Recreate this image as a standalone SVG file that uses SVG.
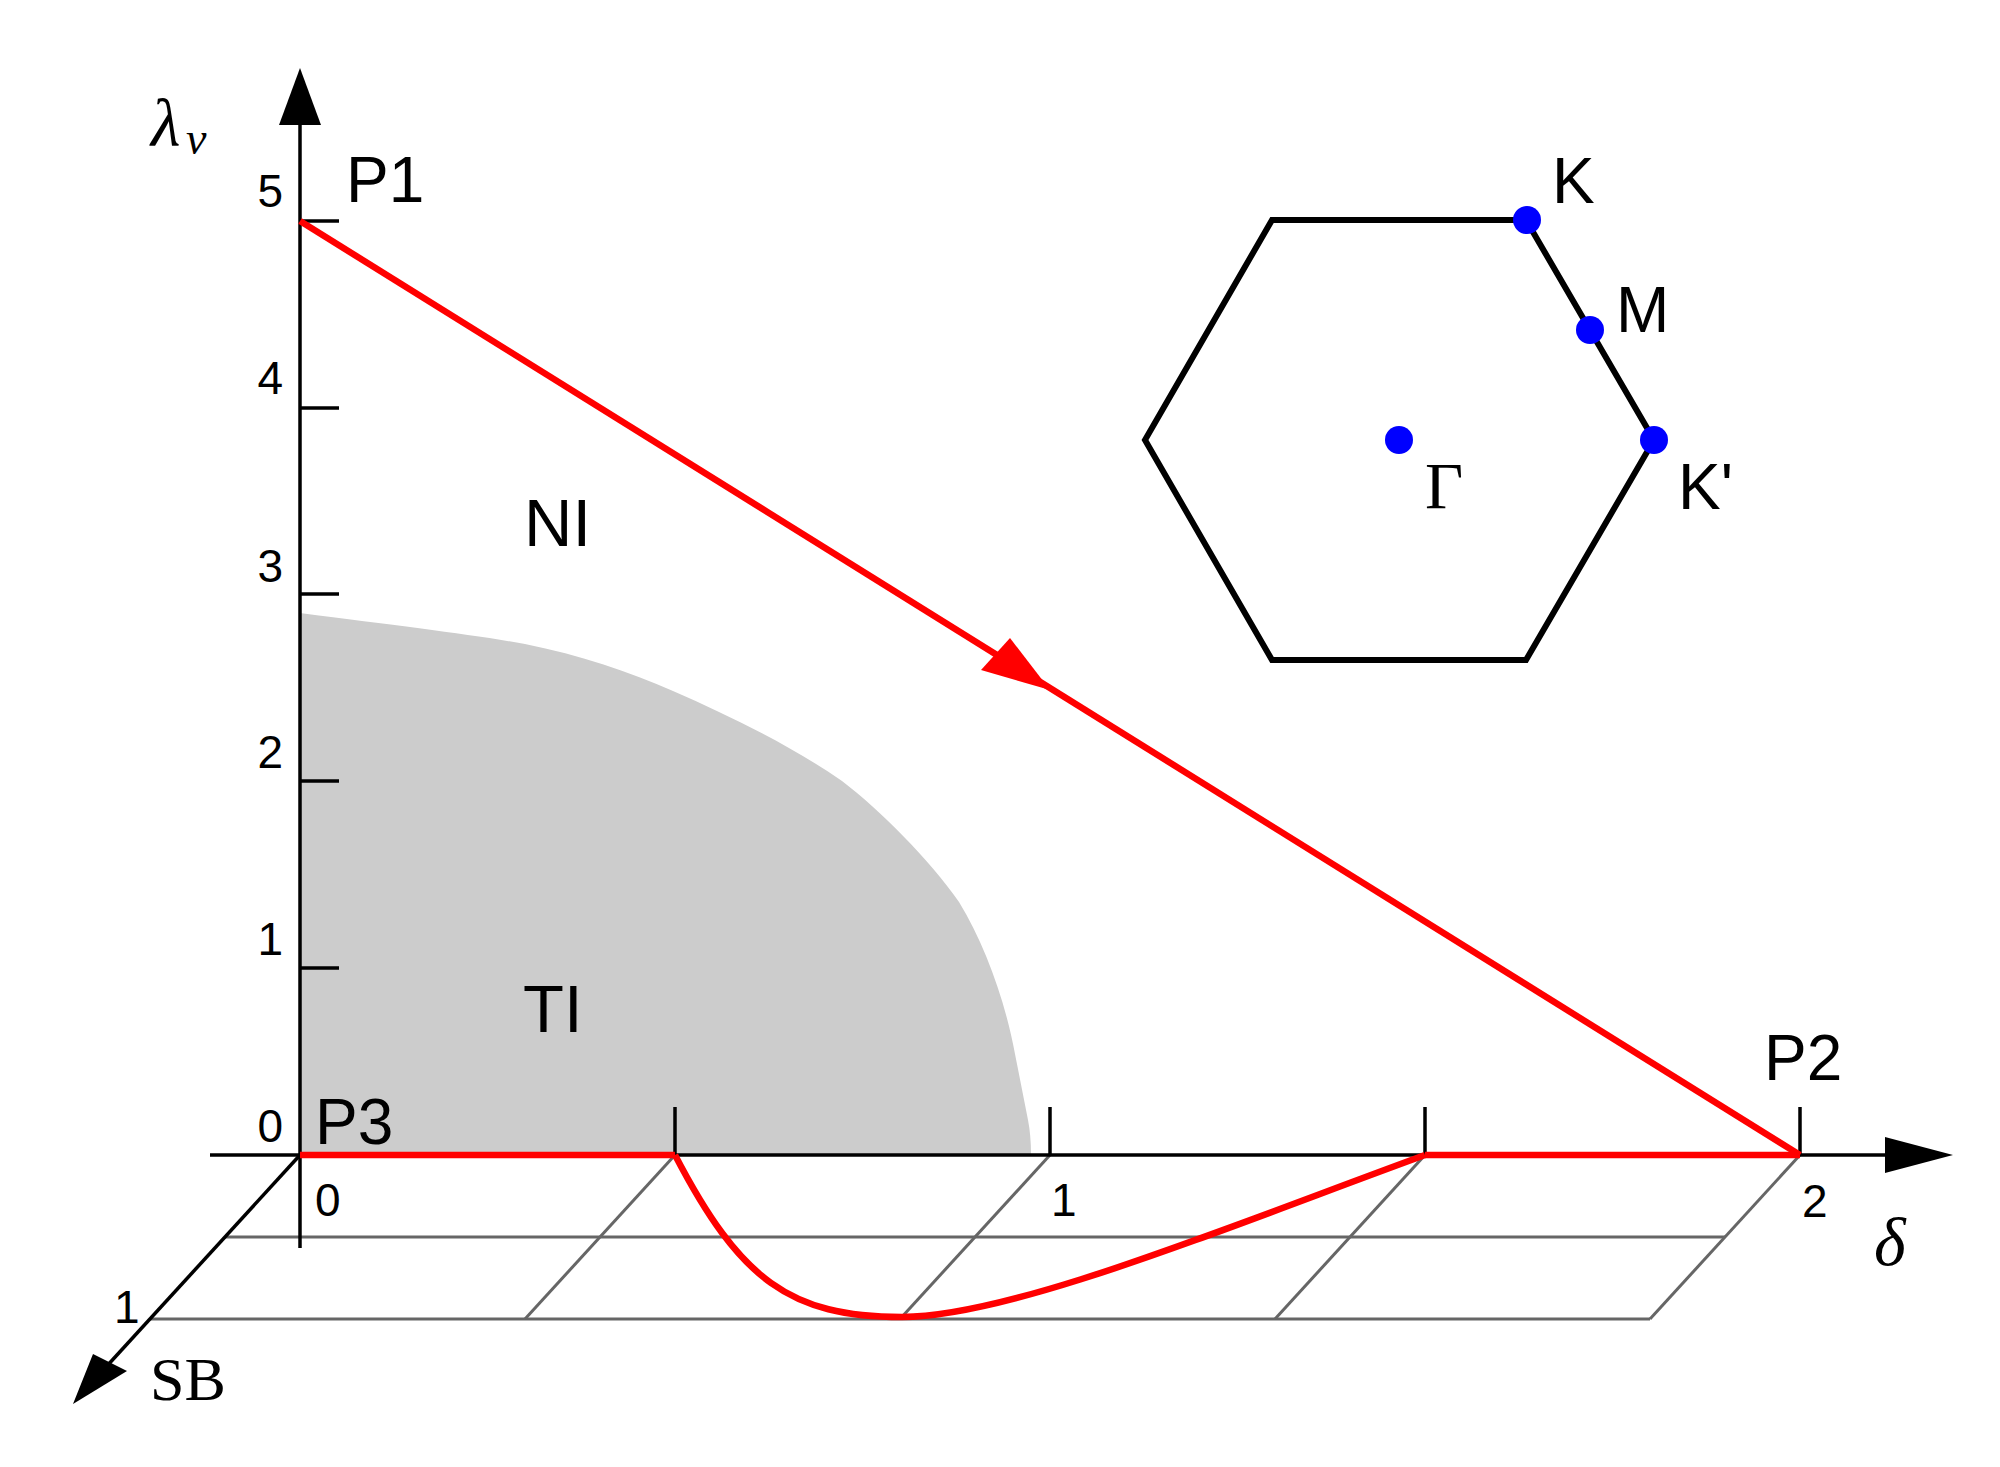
<svg xmlns="http://www.w3.org/2000/svg" width="2000" height="1467" viewBox="0 0 2000 1467">
<style>
.sans{font-family:"Liberation Sans",Arial,sans-serif;fill:#000}
.big{font-size:64px}
.tick{font-size:46px}
.serif{font-family:"Liberation Serif","Times New Roman",serif;fill:#000}
.ax{stroke:#000;stroke-width:3.5;fill:none}
.grid{stroke:#666;stroke-width:3;fill:none}
.red{stroke:#ff0000;stroke-width:6.5;fill:none}
.dot{fill:#0000ff}
</style>
<rect x="0" y="0" width="2000" height="1467" fill="#fff"/>
<g id="ti-region">
<path d="M300,1155 L300,613 C400,626 470,634 525,644 C580,655 630,672 673,691 C730,716 790,745 842,781 C880,810 930,860 959,902 C985,945 1005,1000 1015,1054 L1028,1120 Q1031,1135 1031,1155 Z" fill="#cccccc"/>
</g>
<g id="grid">
<line class="grid" x1="225" y1="1237" x2="1725" y2="1237"/>
<line class="grid" x1="150" y1="1319" x2="1650" y2="1319"/>
<line class="grid" x1="675" y1="1155" x2="525" y2="1319"/>
<line class="grid" x1="1050" y1="1155" x2="900" y2="1319"/>
<line class="grid" x1="1425" y1="1155" x2="1275" y2="1319"/>
<line class="grid" x1="1800" y1="1155" x2="1650" y2="1319"/>
</g>
<g id="axes">
<line class="ax" x1="300" y1="1248" x2="300" y2="120"/>
<polygon points="300,68 279,125 321,125" fill="#000"/>
<line class="ax" x1="210" y1="1155" x2="1890" y2="1155"/>
<polygon points="1953,1155 1885,1137 1885,1173" fill="#000"/>
<line class="ax" x1="300" y1="1155" x2="106" y2="1367"/>
<polygon points="73,1404 93,1354 127,1371" fill="#000"/>
<g id="yticks">
<line class="ax" x1="300" y1="221" x2="339" y2="221"/>
<line class="ax" x1="300" y1="408" x2="339" y2="408"/>
<line class="ax" x1="300" y1="594" x2="339" y2="594"/>
<line class="ax" x1="300" y1="781" x2="339" y2="781"/>
<line class="ax" x1="300" y1="968" x2="339" y2="968"/>
</g>
<g id="xticks">
<line class="ax" x1="675" y1="1107" x2="675" y2="1155"/>
<line class="ax" x1="1050" y1="1107" x2="1050" y2="1155"/>
<line class="ax" x1="1425" y1="1107" x2="1425" y2="1155"/>
<line class="ax" x1="1800" y1="1107" x2="1800" y2="1155"/>
</g>
<g id="tick-labels" class="sans tick">
<text x="283" y="207" text-anchor="end">5</text>
<text x="283" y="394" text-anchor="end">4</text>
<text x="283" y="582" text-anchor="end">3</text>
<text x="283" y="768" text-anchor="end">2</text>
<text x="283" y="955" text-anchor="end">1</text>
<text x="283" y="1142" text-anchor="end">0</text>
<text x="315" y="1216">0</text>
<text x="1051" y="1216">1</text>
<text x="1802" y="1217">2</text>
<text x="114" y="1323">1</text>
</g>
<g id="axis-labels" class="serif">
<text x="151" y="146" font-size="68" font-style="italic">λ</text>
<text x="186" y="154" font-size="46" font-style="italic">ν</text>
<text x="1874" y="1265" font-size="68" font-style="italic">δ</text>
<text x="150" y="1400" font-size="62">SB</text>
</g>
</g>
<g id="connectors">
<line class="red" x1="300" y1="221" x2="1800" y2="1155"/>
<polygon points="1050,690 1010,638 981,670" fill="#ff0000"/>
<line class="red" x1="300" y1="1155" x2="675" y2="1155"/>
<line class="red" x1="1425" y1="1155" x2="1800" y2="1155"/>
<path class="red" d="M675,1155 C740,1280 790,1317 902,1317 C1010,1317 1220,1230 1425,1155" stroke-width="5.5"/>
</g>
<g id="node-P1"><text class="sans big" x="346" y="202">P1</text></g>
<g id="node-P2"><text class="sans big" x="1764" y="1080">P2</text></g>
<g id="node-P3"><text class="sans big" x="315" y="1144">P3</text></g>
<g id="node-NI"><text class="sans" font-size="67" x="524" y="546">NI</text></g>
<g id="node-TI"><text class="sans" font-size="67" x="523" y="1032">TI</text></g>
<g id="brillouin-zone">
<polygon points="1145,440 1272,220 1526,220 1654,440 1526,660 1272,660" fill="none" stroke="#000" stroke-width="6" stroke-linejoin="miter"/>
<g id="node-Gamma"><circle class="dot" cx="1399" cy="440" r="14"/><text class="serif" font-size="66" x="1425" y="508">Γ</text></g>
<g id="node-K"><circle class="dot" cx="1527" cy="220" r="14"/><text class="sans big" x="1552" y="203">K</text></g>
<g id="node-M"><circle class="dot" cx="1590" cy="330" r="14"/><text class="sans big" x="1616" y="332">M</text></g>
<g id="node-Kp"><circle class="dot" cx="1654" cy="440" r="14"/><text class="sans big" x="1678" y="509">K'</text></g>
</g>
</svg>
